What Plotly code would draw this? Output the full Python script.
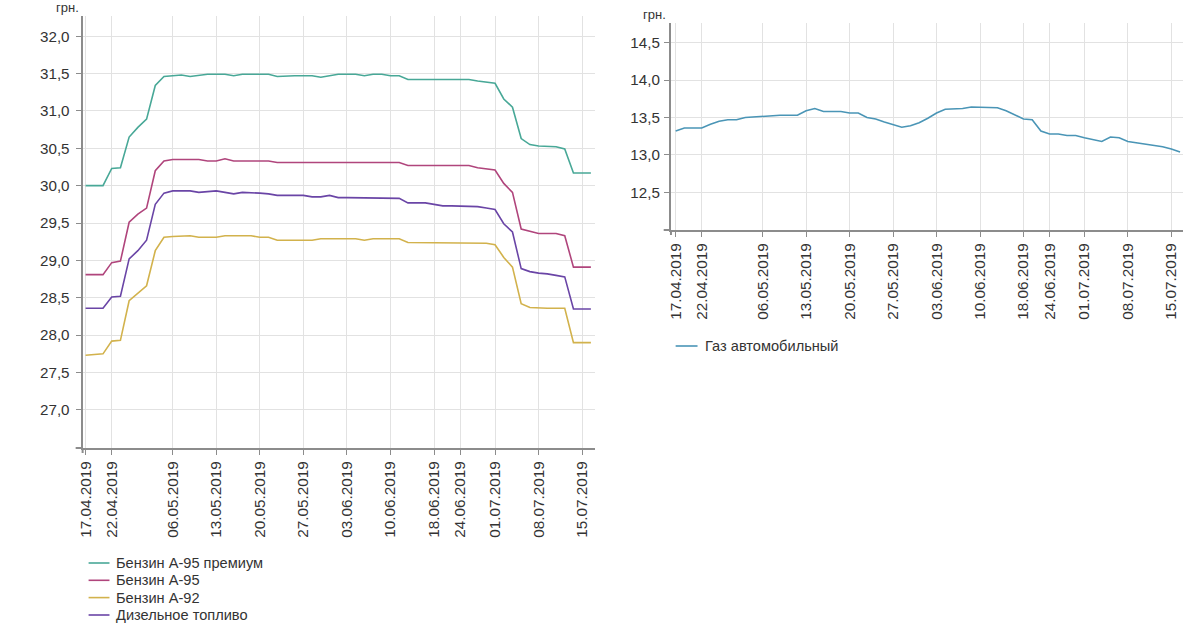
import plotly.graph_objects as go

# Trading dates (category axis)
dates = [
    "17.04.2019", "18.04.2019", "19.04.2019", "22.04.2019", "23.04.2019", "24.04.2019",
    "25.04.2019", "26.04.2019", "30.04.2019", "03.05.2019", "06.05.2019", "07.05.2019",
    "08.05.2019", "09.05.2019", "10.05.2019", "13.05.2019", "14.05.2019", "15.05.2019",
    "16.05.2019", "17.05.2019", "20.05.2019", "21.05.2019", "22.05.2019", "23.05.2019",
    "24.05.2019", "27.05.2019", "28.05.2019", "29.05.2019", "30.05.2019", "31.05.2019",
    "03.06.2019", "04.06.2019", "05.06.2019", "06.06.2019", "07.06.2019", "10.06.2019",
    "11.06.2019", "12.06.2019", "13.06.2019", "14.06.2019", "18.06.2019", "19.06.2019",
    "20.06.2019", "24.06.2019", "25.06.2019", "26.06.2019", "27.06.2019", "01.07.2019",
    "02.07.2019", "03.07.2019", "04.07.2019", "05.07.2019", "08.07.2019", "09.07.2019",
    "10.07.2019", "11.07.2019", "12.07.2019", "15.07.2019", "16.07.2019",
]

tick_dates = ["17.04.2019", "22.04.2019", "06.05.2019", "13.05.2019", "20.05.2019",
              "27.05.2019", "03.06.2019", "10.06.2019", "18.06.2019", "24.06.2019",
              "01.07.2019", "08.07.2019", "15.07.2019"]

a95_premium = [
    30.00, 30.00, 30.00, 30.23, 30.24, 30.65, 30.78, 30.89, 31.34, 31.46,
    31.47, 31.48, 31.46, 31.48, 31.49, 31.49, 31.49, 31.47, 31.49, 31.49,
    31.49, 31.49, 31.46, 31.47, 31.47, 31.47, 31.47, 31.45, 31.47, 31.49,
    31.49, 31.49, 31.47, 31.49, 31.49, 31.47, 31.47, 31.42, 31.42, 31.42,
    31.42, 31.42, 31.42, 31.42, 31.42, 31.40, 31.38, 31.37, 31.16, 31.05,
    30.63, 30.55, 30.53, 30.53, 30.52, 30.49, 30.17, 30.17, 30.17,
]

a95 = [
    28.81, 28.81, 28.81, 28.97, 28.99, 29.51, 29.62, 29.70, 30.20, 30.33,
    30.35, 30.35, 30.35, 30.35, 30.33, 30.33, 30.36, 30.33, 30.33, 30.33,
    30.33, 30.33, 30.31, 30.31, 30.31, 30.31, 30.31, 30.31, 30.31, 30.31,
    30.31, 30.31, 30.31, 30.31, 30.31, 30.31, 30.31, 30.27, 30.27, 30.27,
    30.27, 30.27, 30.27, 30.27, 30.27, 30.24, 30.23, 30.21, 30.03, 29.91,
    29.42, 29.39, 29.36, 29.36, 29.36, 29.33, 28.91, 28.91, 28.91,
]

a92 = [
    27.73, 27.74, 27.75, 27.92, 27.93, 28.46, 28.56, 28.66, 29.13, 29.31,
    29.32, 29.33, 29.33, 29.31, 29.31, 29.31, 29.33, 29.33, 29.33, 29.33,
    29.31, 29.31, 29.27, 29.27, 29.27, 29.27, 29.27, 29.29, 29.29, 29.29,
    29.29, 29.29, 29.27, 29.29, 29.29, 29.29, 29.29, 29.24, 29.24, 29.24,
    29.24, 29.23, 29.24, 29.24, 29.24, 29.24, 29.23, 29.21, 29.04, 28.91,
    28.42, 28.37, 28.36, 28.36, 28.36, 28.36, 27.90, 27.90, 27.90,
]

diesel = [
    28.36, 28.36, 28.36, 28.51, 28.52, 29.02, 29.13, 29.27, 29.75, 29.90,
    29.93, 29.93, 29.93, 29.91, 29.92, 29.93, 29.91, 29.89, 29.91, 29.91,
    29.90, 29.89, 29.87, 29.87, 29.87, 29.87, 29.85, 29.85, 29.87, 29.84,
    29.84, 29.84, 29.83, 29.83, 29.83, 29.83, 29.83, 29.77, 29.77, 29.77,
    29.75, 29.73, 29.73, 29.73, 29.73, 29.72, 29.70, 29.68, 29.49, 29.38,
    28.89, 28.85, 28.83, 28.82, 28.80, 28.78, 28.35, 28.35, 28.35,
]

gas = [
    13.32, 13.36, 13.36, 13.36, 13.41, 13.45, 13.47, 13.47, 13.50, 13.51,
    13.52, 13.52, 13.53, 13.53, 13.53, 13.59, 13.62, 13.58, 13.58, 13.58,
    13.56, 13.56, 13.50, 13.48, 13.44, 13.40, 13.37, 13.39, 13.43, 13.49,
    13.56, 13.61, 13.61, 13.62, 13.64, 13.64, 13.64, 13.63, 13.59, 13.53,
    13.48, 13.47, 13.32, 13.28, 13.28, 13.26, 13.26, 13.23, 13.21, 13.18,
    13.24, 13.23, 13.18, 13.16, 13.15, 13.12, 13.11, 13.08, 13.04,
]

left_names = ["Бензин А-95 премиум", "Бензин А-95", "Бензин А-92", "Дизельное топливо"]
left_series = [a95_premium, a95, a92, diesel]
left_colors = ["#48a897", "#b0457c", "#d2b24c", "#6a45a6"]
gas_name = "Газ автомобильный"
gas_color = "#4a95b6"

y_left_ticks = [27.0, 27.5, 28.0, 28.5, 29.0, 29.5, 30.0, 30.5, 31.0, 31.5, 32.0]
y_right_ticks = [12.5, 13.0, 13.5, 14.0, 14.5]

W, H = 1200, 638
FONT = "Liberation Sans, Arial, sans-serif"
TXT = "#333333"
GRID = "#e2e2e2"
AXIS = "#8c8c8c"

fig = go.Figure()
for name, vals, col in zip(left_names, left_series, left_colors):
    fig.add_trace(go.Scatter(x=dates, y=vals, mode="lines", name=name,
                             line=dict(color=col, width=1.6), showlegend=False,
                             xaxis="x", yaxis="y"))
fig.add_trace(go.Scatter(x=dates, y=gas, mode="lines", name=gas_name,
                         line=dict(color=gas_color, width=1.6), showlegend=False,
                         xaxis="x2", yaxis="y2"))


def px_x(p):
    return p / W


def px_y(p):
    return 1 - p / H


def fmt(v):
    return f"{v:.1f}".replace(".", ",")


common_x = dict(type="category", categoryorder="array", categoryarray=dates,
                tickmode="array", tickvals=tick_dates, ticktext=tick_dates,
                tickangle=-90, showgrid=True, gridcolor=GRID, gridwidth=1,
                showline=True, linecolor=AXIS, linewidth=2,
                ticks="outside", ticklen=5, tickcolor=AXIS, tickwidth=1,
                tickfont=dict(family=FONT, size=15.3, color=TXT), zeroline=False)
common_y = dict(showgrid=True, gridcolor=GRID, gridwidth=1, showline=True,
                linecolor=AXIS, linewidth=2, ticks="outside", ticklen=5,
                tickcolor=AXIS, tickwidth=1, zeroline=False,
                tickfont=dict(family=FONT, size=15.2, color=TXT), tickmode="array")

annotations = [
    dict(text="грн.", xref="paper", yref="paper", x=px_x(62), y=px_y(8),
         xanchor="center", yanchor="middle", showarrow=False,
         font=dict(family=FONT, size=13, color=TXT)),
    dict(text="грн.", xref="paper", yref="paper", x=px_x(652), y=px_y(14),
         xanchor="center", yanchor="middle", showarrow=False,
         font=dict(family=FONT, size=13, color=TXT)),
]
shapes = [
    dict(type="line", xref="paper", yref="paper", x0=px_x(70), x1=px_x(77),
         y0=px_y(448), y1=px_y(448), line=dict(color=AXIS, width=2)),
    dict(type="line", xref="paper", yref="paper", x0=px_x(77), x1=px_x(77),
         y0=px_y(448), y1=px_y(453), line=dict(color=AXIS, width=2)),
    dict(type="line", xref="paper", yref="paper", x0=px_x(661), x1=px_x(668.3),
         y0=px_y(230), y1=px_y(230), line=dict(color=AXIS, width=2)),
    dict(type="line", xref="paper", yref="paper", x0=px_x(668.3), x1=px_x(668.3),
         y0=px_y(230), y1=px_y(235), line=dict(color=AXIS, width=2)),
]

# Legends (drawn as line sample + text)
legend_rows_left = [563, 580.3, 597.6, 615]
for name, col, yy in zip(left_names, left_colors, legend_rows_left):
    shapes.append(dict(type="line", xref="paper", yref="paper", x0=px_x(83), x1=px_x(104),
                       y0=px_y(yy), y1=px_y(yy), line=dict(color=col, width=1.6)))
    annotations.append(dict(text=name, xref="paper", yref="paper", x=px_x(109), y=px_y(yy),
                            xanchor="left", yanchor="middle", showarrow=False,
                            font=dict(family=FONT, size=14.6, color=TXT)))
shapes.append(dict(type="line", xref="paper", yref="paper", x0=px_x(673), x1=px_x(695),
                   y0=px_y(346), y1=px_y(346), line=dict(color=gas_color, width=1.6)))
annotations.append(dict(text=gas_name, xref="paper", yref="paper", x=px_x(700), y=px_y(346),
                        xanchor="left", yanchor="middle", showarrow=False,
                        font=dict(family=FONT, size=14.6, color=TXT)))

fig.update_layout(
    width=W, height=H, margin=dict(l=0, r=0, t=0, b=0),
    paper_bgcolor="white", plot_bgcolor="white",
    font=dict(family=FONT, color=TXT),
    xaxis=dict(common_x, domain=[px_x(77), px_x(591.5)], range=[-0.34, 58.42],
               anchor="y"),
    yaxis=dict(common_y, domain=[px_y(448), px_y(16)], range=[26.49, 32.27],
               tickvals=y_left_ticks, ticktext=[fmt(v) for v in y_left_ticks],
               anchor="x", ticklabelstandoff=3),
    xaxis2=dict(common_x, domain=[px_x(668.3), px_x(1183)], range=[-0.54, 58.35],
                anchor="y2"),
    yaxis2=dict(common_y, domain=[px_y(230), px_y(23.3)], range=[11.996, 14.76],
                tickvals=y_right_ticks, ticktext=[fmt(v) for v in y_right_ticks],
                anchor="x2", ticklabelstandoff=1),
    annotations=annotations,
    shapes=shapes,
    showlegend=False,
)

fig.write_html("out.html")
